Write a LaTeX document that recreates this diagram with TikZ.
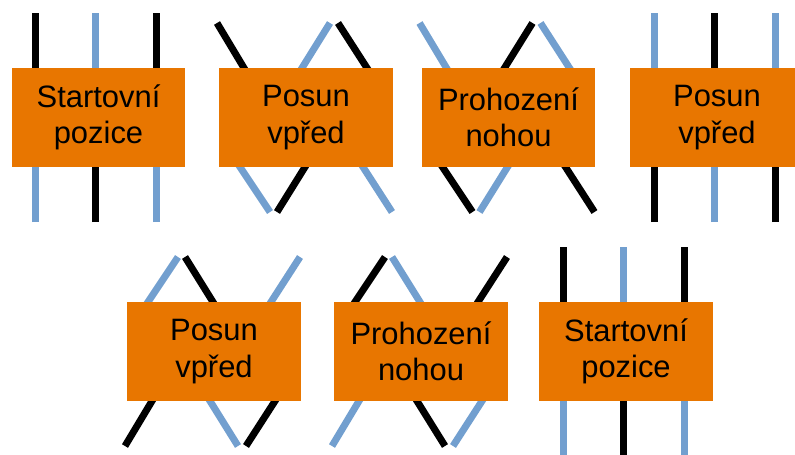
\documentclass[tikz,border=0pt]{standalone}
\usepackage{fontspec}
\setmainfont{Liberation Sans}
\definecolor{boxorange}{RGB}{232,118,0}
\definecolor{legblue}{RGB}{114,159,207}
\newcommand{\straightlegs}[3]{%
  \begin{scope}[shift={(#1)}]
    \draw[leg, #2] (-63,-104.5) -- (-63,0);
    \draw[leg, #3] (-3,-104.5) -- (-3,0);
    \draw[leg, #2] (58,-104.5) -- (58,0);
    \draw[leg, #3] (-63,104.5) -- (-63,0);
    \draw[leg, #2] (-3,104.5) -- (-3,0);
    \draw[leg, #3] (58,104.5) -- (58,0);
  \end{scope}}
\newcommand{\crosslegs}[4]{%
  \begin{scope}[shift={(#1)}, yscale=#2]
    \draw[leg, #3] (-89,-94.5) -- (-62,-49.5);
    \draw[leg, #4] (24,-94.5) -- (-4,-49.5);
    \draw[leg, #3] (32,-94.5) -- (61,-49.5);
    \draw[leg, #4] (-36,94.5) -- (-66,49.5);
    \draw[leg, #3] (-29,94.5) -- (-1,49.5);
    \draw[leg, #4] (86,94.5) -- (57,49.5);
  \end{scope}}

\begin{document}
\begin{tikzpicture}[x=0.02cm, y=-0.02cm,
    leg/.style = {line width=0.14cm, shorten >=-8pt},
    box/.style = {fill=boxorange, minimum width=3.48cm, minimum height=1.98cm, inner sep=0pt,
    align=center, font=\fontsize{17.6}{20.7}\selectfont}]
    \clip (0,0) rectangle (795,454);
    % Positions
    \coordinate (p1) at (98.5, 117.5);
    \coordinate (p2) at (306, 117.5);
    \coordinate (p3) at (508.5, 117.5);
    \coordinate (p4) at (717, 117.5);
    \coordinate (p5) at (214, 351.5);
    \coordinate (p6) at (421, 351.5);
    \coordinate (p7) at (626, 351.5);

    % Legs
    \straightlegs{p1}{black}{legblue}
    \crosslegs{p2}{1}{black}{legblue}
    \crosslegs{p3}{1}{legblue}{black}
    \straightlegs{p4}{legblue}{black}
    \crosslegs{p5}{-1}{black}{legblue}
    \crosslegs{p6}{-1}{legblue}{black}
    \straightlegs{p7}{black}{legblue}

    % Boxes
    \node[box] (start1) at (p1) {Startovní\\pozice};
    \node[box] (posun1) at (p2) {Posun\\vpřed};
    \node[box] (prohoz1) at (p3) {Prohození\\nohou};
    \node[box] (posun2) at (p4) {Posun\\vpřed};
    \node[box] (posun3) at (p5) {Posun\\vpřed};
    \node[box] (prohoz2) at (p6) {Prohození\\nohou};
    \node[box] (start2) at (p7) {Startovní\\pozice};
\end{tikzpicture}
\end{document}
